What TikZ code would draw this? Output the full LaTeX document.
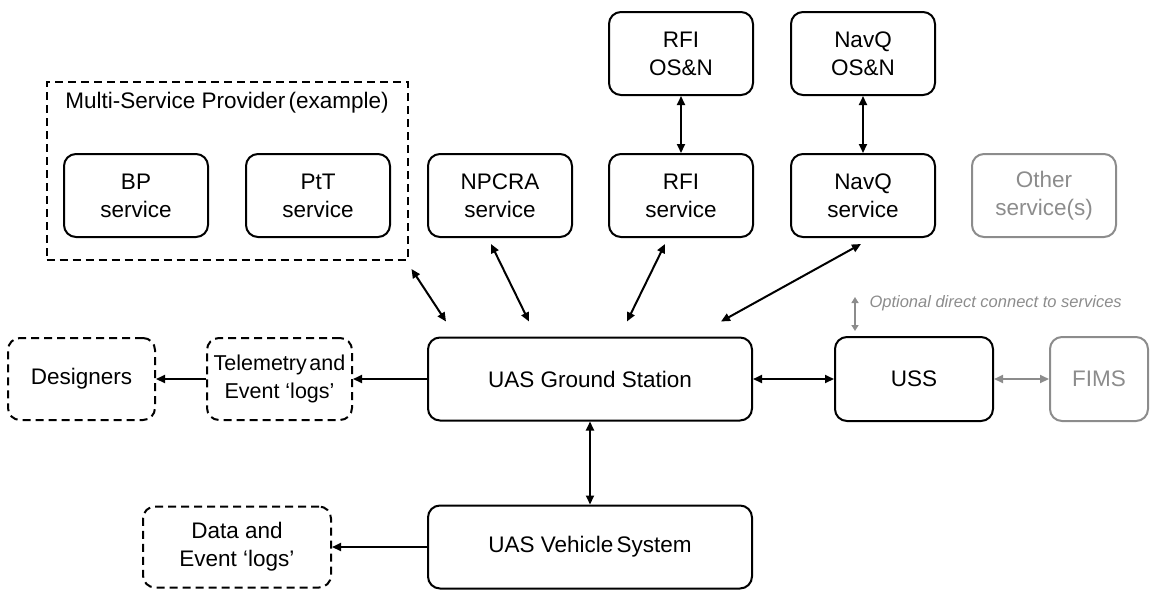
\documentclass[tikz,border=0pt]{standalone}
\usepackage{fontspec}
\setmainfont{Liberation Sans}
\usepackage{tikz}
\usetikzlibrary{calc}
\usetikzlibrary{arrows.meta}
\definecolor{softgray}{RGB}{140,140,140}
\tikzset{
  blk/.style={draw, line width=2pt, rounded corners=12pt, align=center, inner sep=0pt,
    font=\fontsize{22.5}{28}\selectfont},
  svc/.style={blk, minimum width=144pt, minimum height=83pt},
  wide/.style={blk, minimum width=324pt, minimum height=83pt},
  logbox/.style={blk, dash pattern=on 8pt off 5pt},
  link/.style={line width=2pt, {Triangle[length=9pt,width=8pt]}-{Triangle[length=9pt,width=8pt]}},
  feed/.style={line width=2pt, -{Triangle[length=9pt,width=8pt]}},
  optlink/.style={line width=2pt, softgray, {Triangle[length=6pt,width=7pt]}-{Triangle[length=6pt,width=7pt]}}
}

\begin{document}
\begin{tikzpicture}[x=1pt,y=-1pt]
    \useasboundingbox (0,0) rectangle (1152,590);
    %services
    \node[draw, line width=2pt, dash pattern=on 8pt off 5pt, minimum width=361pt, minimum height=178pt] (msp) at (227,171) {};
    \node[font=\fontsize{22.5}{28}\selectfont] (msplabel) at (227,103) {Multi-Service Provider\hspace{0.15em}(example)};
    \foreach \nm/\x/\txt in {bp/136/BP, ptt/318/PtT, npcra/500/NPCRA, rfi/681/RFI, navq/863/NavQ}
        \node[svc] (\nm) at (\x,195.5) {\txt\\service};
    \node[svc, draw=softgray, text=softgray] (other) at (1044,195.5) {Other\\service(s)};
    \node[svc] (rfios) at (681,53.5) {RFI\\OS\&N};
    \node[svc] (navqos) at (863,53.5) {NavQ\\OS\&N};
    %ground
    \node[wide] (gs) at (590,379) {UAS Ground Station};
    \node[blk, minimum width=158pt, minimum height=84pt] (uss) at (914,379) {USS};
    \node[blk, draw=softgray, text=softgray, minimum width=98pt, minimum height=84pt] (fims) at (1099,379) {FIMS};
    \node[logbox, minimum width=147pt, minimum height=82pt] (designers) at (81.5,379) {Designers};
    \node[logbox, minimum width=145pt, minimum height=82pt, font=\fontsize{21.5}{28}\selectfont] (telem) at (279.5,379) {Telemetry\hspace{0.12em}and\\Event ‘logs’};
    \node[wide] (uav) at (590,547) {UAS Vehicle\hspace{0.15em}System};
    \node[logbox, minimum width=188pt, minimum height=81pt] (datalogs) at (237,547) {Data and\\Event ‘logs’};
    \node[anchor=west, text=softgray, font=\itshape\fontsize{16.5}{20}\selectfont] (optnote) at (866,303) {Optional direct connect to services};

    \draw[link] (rfios) -- (rfi);
    \draw[link] (navqos) -- (navq);
    \draw[link] ($(msp.south east)+(3,8)$) -- ($(gs.north west)+(19,-15)$);
    \draw[link] ($(npcra.south)+(-9,6)$) -- ($(gs.north west)+(102,-15)$);
    \draw[link] ($(rfi.south)+(-16,6)$) -- ($(gs.north west)+(200,-15)$);
    \draw[link] ($(navq.south)+(-2,6)$) -- ($(gs.north west)+(294,-15)$);
    \draw[link] (gs) -- (uss);
    \draw[link, softgray] (uss) -- (fims);
    \draw[optlink] ($(uss.north west)+(21,-5)$) -- ($(uss.north west)+(21,-39)$);
    \draw[feed] (gs) -- (telem);
    \draw[feed] (telem) -- (designers);
    \draw[link] (gs) -- (uav);
    \draw[feed] (uav) -- (datalogs);
\end{tikzpicture}
\end{document}
